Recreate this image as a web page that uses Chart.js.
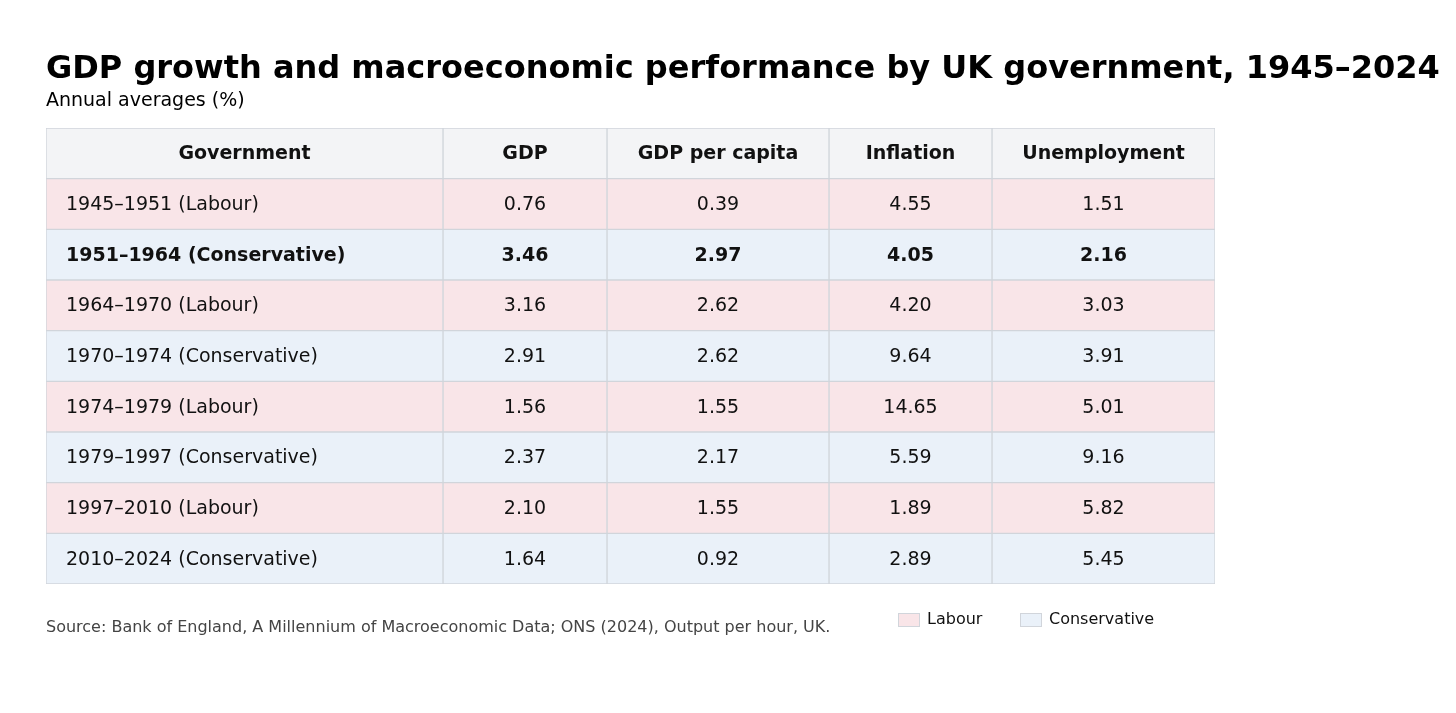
<!DOCTYPE html>
<html><head><meta charset="utf-8">
<script src="https://cdn.jsdelivr.net/npm/chart.js@4"></script>
<style>body{margin:0;background:#fff}canvas{display:block}</style>
</head><body>
<canvas id="c" width="1456" height="713"></canvas>
<script>
const columns = ['Government','GDP','GDP per capita','Inflation','Unemployment'];
const governments = ['1945–1951 (Labour)','1951–1964 (Conservative)','1964–1970 (Labour)','1970–1974 (Conservative)','1974–1979 (Labour)','1979–1997 (Conservative)','1997–2010 (Labour)','2010–2024 (Conservative)'];
const parties = ['Labour','Conservative','Labour','Conservative','Labour','Conservative','Labour','Conservative'];
const gdp = ['0.76','3.46','3.16','2.91','1.56','2.37','2.10','1.64'];
const gdpPerCapita = ['0.39','2.97','2.62','2.62','1.55','2.17','1.55','0.92'];
const inflation = ['4.55','4.05','4.20','9.64','14.65','5.59','1.89','2.89'];
const unemployment = ['1.51','2.16','3.03','3.91','5.01','9.16','5.82','5.45'];
const boldRow = 1;

const colEdges = [0,397,561,783,946,1169];
const fills = {header:'#f3f4f6', Labour:'#f9e5e8', Conservative:'#eaf1f9'};
const rowLabels = ['header', ...governments];
const cells = [governments, gdp, gdpPerCapita, inflation, unemployment];
const F = 'DejaVu Sans, sans-serif';

const datasets = columns.map((c,j)=>({
  label:c,
  data: rowLabels.map(()=>[colEdges[j], colEdges[j+1]]),
  backgroundColor: rowLabels.map((r,i)=> i===0 ? fills.header : fills[parties[i-1]]),
  borderColor:'#d1d5db', borderWidth:1, borderSkipped:false,
  barPercentage:1, categoryPercentage:1, grouped:false
}));

const textPlugin = {
  id:'txt',
  afterDatasetsDraw(chart){
    const {ctx, scales:{x,y}} = chart;
    ctx.save();
    ctx.textBaseline='middle';
    rowLabels.forEach((r,i)=>{
      const py = y.getPixelForValue(i);
      columns.forEach((c,j)=>{
        const bold = i===0 || i-1===boldRow;
        ctx.font = (bold?'bold ':'') + '19px ' + F;
        ctx.fillStyle = '#111';
        const txt = i===0 ? c : cells[j][i-1];
        if (j===0 && i>0){ ctx.textAlign='left'; ctx.fillText(txt, x.getPixelForValue(colEdges[0])+20, py+1); }
        else { ctx.textAlign='center'; ctx.fillText(txt, (x.getPixelForValue(colEdges[j])+x.getPixelForValue(colEdges[j+1]))/2, py+1); }
      });
    });
    ctx.textAlign='left';
    ctx.fillStyle='#000';
    ctx.font='bold 32px '+F;
    ctx.fillText('GDP growth and macroeconomic performance by UK government, 1945–2024', 46, 70);
    ctx.font='19px '+F;
    ctx.fillText('Annual averages (%)', 46, 101);
    ctx.fillStyle='#444';
    ctx.font='16px '+F;
    ctx.fillText('Source: Bank of England, A Millennium of Macroeconomic Data; ONS (2024), Output per hour, UK.', 46, 628);
    const leg = [['Labour',898],['Conservative',1020]];
    leg.forEach(([n,lx])=>{
      ctx.fillStyle=fills[n]; ctx.fillRect(lx,613,21,13);
      ctx.strokeStyle='#d1d5db'; ctx.lineWidth=1; ctx.strokeRect(lx+0.5,613.5,21,13);
      ctx.fillStyle='#111'; ctx.font='16px '+F; ctx.fillText(n, lx+29, 620);
    });
    ctx.restore();
  }
};

new Chart(document.getElementById('c'),{
  type:'bar',
  data:{labels:rowLabels, datasets},
  options:{
    indexAxis:'y', responsive:false, animation:false, devicePixelRatio:1,
    layout:{padding:{left:46,right:241,top:128,bottom:129}},
    scales:{
      x:{type:'linear',min:colEdges[0],max:colEdges[colEdges.length-1],display:false},
      y:{type:'category',offset:true,display:false}
    },
    plugins:{legend:{display:false},tooltip:{enabled:false},title:{display:false}}
  },
  plugins:[textPlugin]
});
</script>
</body></html>
